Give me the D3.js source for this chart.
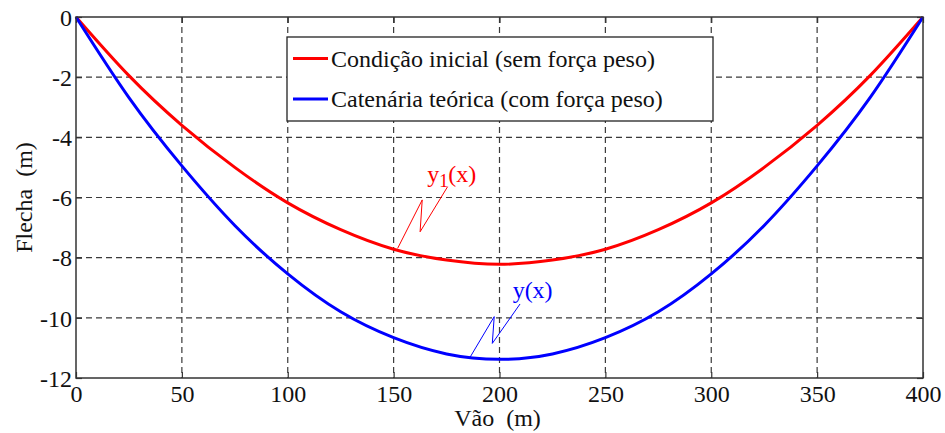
<!DOCTYPE html>
<html>
<head>
<meta charset="utf-8">
<script src="https://cdn.jsdelivr.net/npm/d3@7"></script>
<style>
  html, body { margin: 0; padding: 0; background: #fff; }
  svg { display: block; }
  svg text { font-family: "Liberation Serif", "Times New Roman", Times, serif; }
</style>
</head>
<body>
<svg id="chart" width="945" height="433"></svg>
<script>
// Span positions (m) and cable sag (m) for the two cases
const spanX = [0, 25, 50, 75, 100, 125, 150, 175, 200, 225, 250, 275, 300, 325, 350, 375, 400];
const sagInitial = [0, -1.95, -3.6, -5.0, -6.18, -7.07, -7.72, -8.08, -8.22, -8.08, -7.72, -7.07, -6.18, -5.0, -3.6, -1.95, 0];
const sagCatenary = [0, -2.68, -4.95, -6.93, -8.54, -9.8, -10.66, -11.2, -11.38, -11.2, -10.66, -9.8, -8.54, -6.93, -4.95, -2.68, 0];

const xTickValues = [0, 50, 100, 150, 200, 250, 300, 350, 400];
const yTickValues = [0, -2, -4, -6, -8, -10, -12];

const seriesNames = ["Condição inicial (sem força peso)", "Catenária teórica (com força peso)"];
const seriesColors = ["#ff0000", "#0000ff"];

// Curve labels with their zig-zag leaders, in data units
const curveLabels = [
  { text: "y", sub: "1", tail: "(x)", color: "#ff0000", at: [165.9, -5.49],
    leader: [[175.5, -5.64], [162.5, -7.14], [163.5, -6.08], [151.9, -7.69]] },
  { text: "y", sub: "", tail: "(x)", color: "#0000ff", at: [206.2, -9.35],
    leader: [[209.7, -9.54], [196.6, -10.85], [197.5, -9.96], [186.1, -11.31]] }
];

const svg = d3.select("#chart");
const m = { left: 76, right: 923, top: 17, bottom: 378 };
const serif = "'Liberation Serif', 'Times New Roman', Times, serif";

const x = d3.scaleLinear().domain([0, 400]).range([m.left, m.right]);
const y = d3.scaleLinear().domain([-12, 0]).range([m.bottom, m.top]);

// plain hyphen for negative tick labels
const tickFmt = d => String(d);

const gridColor = "#3a3a3a";
const plotW = m.right - m.left, plotH = m.bottom - m.top;

// Dashed grid
const grid = svg.append("g");
grid.selectAll("line.vx").data(xTickValues.slice(1, -1)).join("line")
  .attr("x1", d => x(d)).attr("x2", d => x(d))
  .attr("y1", m.top).attr("y2", m.bottom)
  .attr("stroke", gridColor).attr("stroke-width", 1.2).attr("stroke-dasharray", "6,4");
grid.selectAll("line.hy").data(yTickValues.slice(1, -1)).join("line")
  .attr("x1", m.left).attr("x2", m.right)
  .attr("y1", d => y(d)).attr("y2", d => y(d))
  .attr("stroke", gridColor).attr("stroke-width", 1.2).attr("stroke-dasharray", "6,4");

// Axes with inward ticks on all four sides
const axisStyle = g => {
  g.attr("font-family", serif).attr("font-size", 24);
  g.select(".domain").remove();
  g.selectAll(".tick line").attr("stroke", "#333").attr("stroke-width", 1.2);
  g.selectAll(".tick text").attr("fill", "#111");
};
svg.append("g").attr("transform", `translate(0,${m.bottom})`)
  .call(d3.axisBottom(x).tickValues(xTickValues).tickSize(-6).tickFormat(tickFmt))
  .call(axisStyle)
  .call(g => g.selectAll(".tick text").attr("y", 24).attr("dy", 0));
svg.append("g").attr("transform", `translate(0,${m.top})`)
  .call(d3.axisTop(x).tickValues(xTickValues).tickSize(-6).tickFormat(""))
  .call(axisStyle);
svg.append("g").attr("transform", `translate(${m.left},0)`)
  .call(d3.axisLeft(y).tickValues(yTickValues).tickSize(-6).tickFormat(tickFmt))
  .call(axisStyle)
  .call(g => g.selectAll(".tick text").attr("x", -4).attr("dy", "0.34em"));
svg.append("g").attr("transform", `translate(${m.right},0)`)
  .call(d3.axisRight(y).tickValues(yTickValues).tickSize(-6).tickFormat(""))
  .call(axisStyle);

// Curves
const line = d3.line().x(d => x(d[0])).y(d => y(d[1])).curve(d3.curveNatural);
[sagInitial, sagCatenary].forEach((vals, i) => {
  svg.append("path")
    .datum(spanX.map((s, k) => [s, vals[k]]))
    .attr("d", line)
    .attr("fill", "none")
    .attr("stroke", seriesColors[i])
    .attr("stroke-width", 3)
    .attr("stroke-linejoin", "round");
});

// Plot frame
svg.append("rect")
  .attr("x", m.left).attr("y", m.top).attr("width", plotW).attr("height", plotH)
  .attr("fill", "none").attr("stroke", "#333").attr("stroke-width", 1.5);

// Curve labels and leaders
curveLabels.forEach(c => {
  svg.append("path")
    .attr("d", d3.line().x(d => x(d[0])).y(d => y(d[1]))(c.leader))
    .attr("fill", "none").attr("stroke", c.color).attr("stroke-width", 1);
  const t = svg.append("text")
    .attr("x", x(c.at[0])).attr("y", y(c.at[1]))
    .attr("fill", c.color).attr("font-size", 24);
  t.append("tspan").text(c.text);
  if (c.sub) {
    t.append("tspan").attr("dy", 5).attr("font-size", 18).text(c.sub);
    t.append("tspan").attr("dy", -5).text(c.tail);
  } else {
    t.append("tspan").text(c.tail);
  }
});

// Legend
const legend = svg.append("g");
legend.append("rect")
  .attr("x", 287).attr("y", 37).attr("width", 426).attr("height", 84)
  .attr("fill", "#fff").attr("stroke", "#222").attr("stroke-width", 1.3);
seriesNames.forEach((name, i) => {
  const cy = 58.5 + i * 40.5;
  legend.append("line")
    .attr("x1", 293).attr("x2", 328).attr("y1", cy).attr("y2", cy)
    .attr("stroke", seriesColors[i]).attr("stroke-width", 3.2);
  legend.append("text")
    .attr("x", 331).attr("y", cy + 8.3)
    .attr("fill", "#111").attr("font-size", 24)
    .text(name);
});

// Axis titles
svg.append("text")
  .attr("x", (m.left + m.right) / 2 - 2).attr("y", 426)
  .attr("text-anchor", "middle").attr("fill", "#111").attr("font-size", 24)
  .attr("xml:space", "preserve")
  .text("Vão  (m)");
svg.append("text")
  .attr("transform", `translate(32,${(m.top + m.bottom) / 2}) rotate(-90)`)
  .attr("text-anchor", "middle").attr("fill", "#111").attr("font-size", 24)
  .attr("xml:space", "preserve")
  .text("Flecha  (m)");
</script>
</body>
</html>
